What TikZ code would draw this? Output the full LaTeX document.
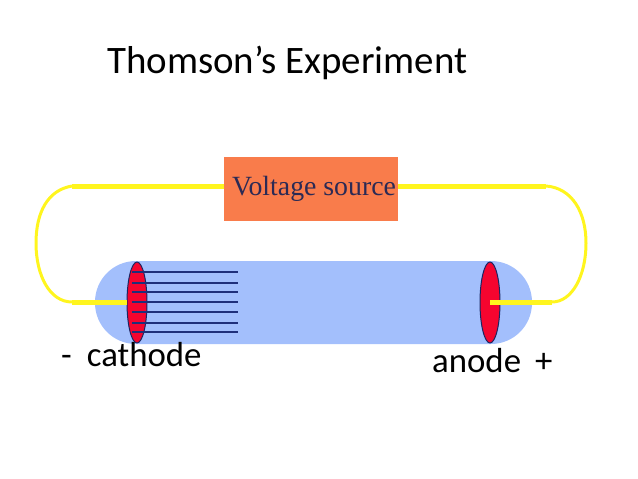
\documentclass[tikz,border=0pt]{standalone}
\usepackage{fontspec}
\setmainfont{Carlito}
\newfontfamily\boxfont{Liberation Serif}
\usetikzlibrary{shapes}
\definecolor{tubeblue}{HTML}{A3BFFC}
\definecolor{boxorange}{HTML}{F97C4B}
\definecolor{wireyellow}{HTML}{FFF51E}
\definecolor{platered}{HTML}{F5052F}
\definecolor{rayblue}{HTML}{1F2F7A}
\definecolor{inkblue}{HTML}{2B2A55}

\begin{document}
\begin{tikzpicture}[x=1pt,y=-1pt]
        \tikzstyle{tube}=[rectangle,fill=tubeblue,rounded corners=41pt,minimum width=437pt,minimum height=83pt,inner sep=0pt]
        \tikzstyle{plate}=[ellipse,draw=rayblue!80!black,line width=1pt,fill=platered,minimum width=20pt,minimum height=81pt,inner sep=0pt]
        \tikzstyle{source}=[rectangle,fill=boxorange,minimum width=174pt,minimum height=64pt,inner sep=0pt,font=\boxfont\fontsize{27.8}{27.8}\selectfont,text=inkblue]
        \tikzstyle{thick wire}=[wireyellow,line width=5pt]
        \tikzstyle{thin wire}=[wireyellow,line width=3pt]
        \tikzstyle{label}=[inner sep=0pt,anchor=base west,font=\fontsize{34.8}{34.8}\selectfont]
        \useasboundingbox (0,0) rectangle (638,479);
        \node[label,font=\fontsize{38.9}{38.9}\selectfont] (title) at (107,73) {Thomson’s Experiment};
        \node[tube] (tube) at (313.5,302.5) {};
        \node[source] (source) at (311,189) {\hspace{6pt}\raisebox{-2pt}{Voltage source}};
        \node[plate] (cathode) at (137,302.5) {};
        \node[plate] (anode) at (490,302.5) {};
        \coordinate (topleft) at (72,186);
        \coordinate (botleft) at (72,302);
        \coordinate (topright) at (546,186);
        \coordinate (botright) at (552,302);
        % rays from the cathode
        \foreach \y in {272,283,292,302,312,323,332}
            \draw[rayblue,line width=1.2pt] (132,\y) -- (238,\y);
        \draw[thick wire] (source.west |- topleft) -- (topleft);
        \draw[thin wire] (topleft) .. controls (48,190) and (36,212) .. (36,243) .. controls (36,276) and (50,302) .. (botleft);
        \draw[thick wire] (botleft) -- (botleft -| cathode.west);
        \draw[thick wire] (source.east |- topright) -- (topright);
        \draw[thin wire] (topright) .. controls (572,188) and (586,212) .. (586,243) .. controls (586,276) and (572,302) .. (botright);
        \draw[thick wire] (botright) -- (botright -| anode.center);
        \node[label] (cathodelabel) at (61,366) {-\hspace{15pt}cathode};
        \node[label] (anodelabel) at (432,372) {anode\hspace{14pt}+};
\end{tikzpicture}
\end{document}
